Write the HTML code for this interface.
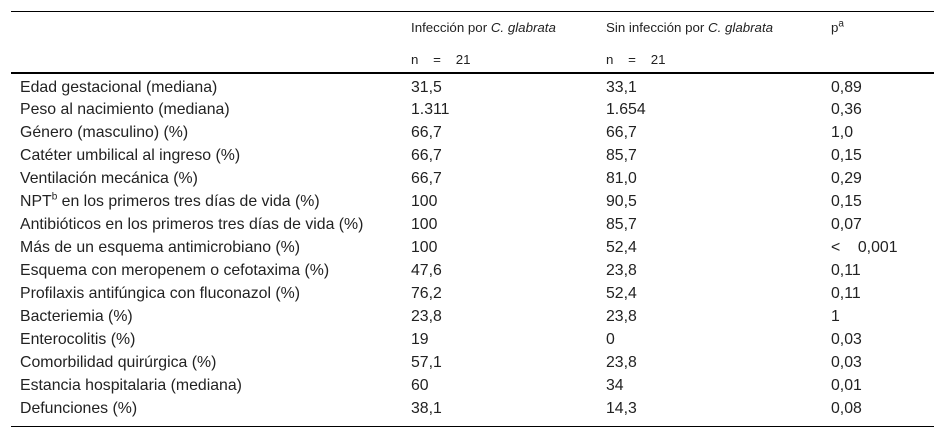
<!DOCTYPE html>
<html><head><meta charset="utf-8"><style>
body{margin:0;width:945px;height:438px;background:#fff;position:relative;font-family:"Liberation Sans",sans-serif;font-size:15.85px;color:#222;overflow:hidden}
.t{position:absolute;white-space:nowrap;line-height:20px;height:20px}
.h{font-size:13.3px}
.ln{position:absolute;left:11px;width:923px;background:#000}
sup{font-size:10px;line-height:0}
</style></head><body>
<div>
<div class="ln" style="top:11px;height:1px"></div>
<div class="ln" style="top:72px;height:2px"></div>
<div class="ln" style="top:426px;height:1px"></div>
<div class="t h" style="left:411px;top:18px">Infección por <i>C. glabrata</i></div>
<div class="t h" style="left:606px;top:18px">Sin infección por <i>C. glabrata</i></div>
<div class="t h" style="left:831px;top:18px">p<sup>a</sup></div>
<div class="t h" style="left:411px;top:50px">n&nbsp;&nbsp;&nbsp;&nbsp;=&nbsp;&nbsp;&nbsp;&nbsp;21</div>
<div class="t h" style="left:606px;top:50px">n&nbsp;&nbsp;&nbsp;&nbsp;=&nbsp;&nbsp;&nbsp;&nbsp;21</div>
<div id="rows"></div>
</div>
<script>
const labels=["Edad gestacional (mediana)","Peso al nacimiento (mediana)","Género (masculino) (%)","Catéter umbilical al ingreso (%)","Ventilación mecánica (%)","NPT<sup>b</sup> en los primeros tres días de vida (%)","Antibióticos en los primeros tres días de vida (%)","Más de un esquema antimicrobiano (%)","Esquema con meropenem o cefotaxima (%)","Profilaxis antifúngica con fluconazol (%)","Bacteriemia (%)","Enterocolitis (%)","Comorbilidad quirúrgica (%)","Estancia hospitalaria (mediana)","Defunciones (%)"];
const infected=["31,5","1.311","66,7","66,7","66,7","100","100","100","47,6","76,2","23,8","19","57,1","60","38,1"];
const notInfected=["33,1","1.654","66,7","85,7","81,0","90,5","85,7","52,4","23,8","52,4","23,8","0","23,8","34","14,3"];
const pValues=["0,89","0,36","1,0","0,15","0,29","0,15","0,07","<&nbsp;&nbsp;&nbsp;&nbsp;0,001","0,11","0,11","1","0,03","0,03","0,01","0,08"];
const rows=document.getElementById('rows');
const cols=[[20,labels,'row-label'],[411,infected,'infected-value'],[606,notInfected,'not-infected-value'],[831,pValues,'p-value']];
labels.forEach((l,i)=>{
  cols.forEach(c=>{
    const d=document.createElement('div');
    d.className='t';
    
    
    d.style.left=c[0]+'px';
    d.style.top=(77.5+i*22.93)+'px';
    d.innerHTML=c[1][i];
    rows.appendChild(d);
  });
});
</script>
</body></html>
